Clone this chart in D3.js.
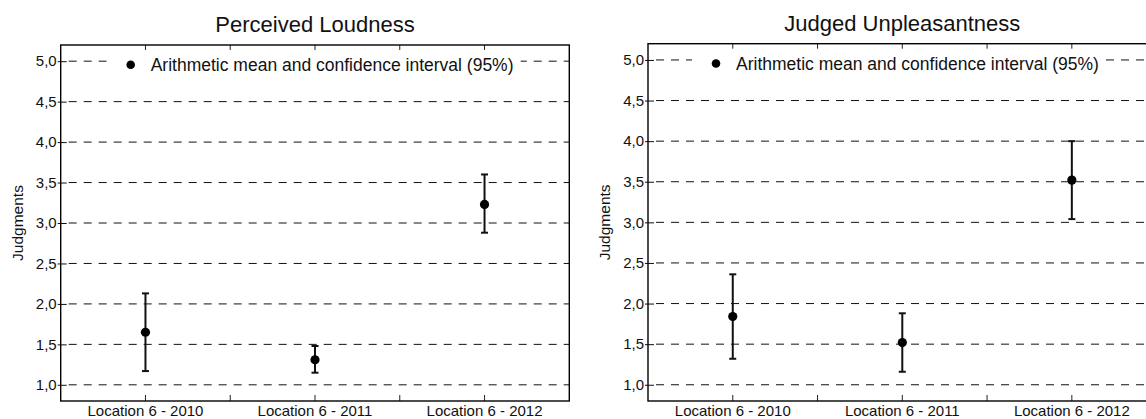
<!DOCTYPE html>
<html>
<head>
<meta charset="utf-8">
<script src="https://cdn.jsdelivr.net/npm/d3@7"></script>
<style>
  html, body { margin: 0; padding: 0; background: #fff; }
  svg { display: block; font-family: "Liberation Sans", Arial, Helvetica, sans-serif; }
</style>
</head>
<body>
<svg id="chart" width="1146" height="419"></svg>
<script>
// ---- data ----
const categories = ["Location 6 - 2010", "Location 6 - 2011", "Location 6 - 2012"];
const loudnessMean = [1.65, 1.31, 3.23];
const loudnessLow  = [1.17, 1.15, 2.88];
const loudnessHigh = [2.13, 1.48, 3.60];
const unpleasMean  = [1.84, 1.52, 3.52];
const unpleasLow   = [1.32, 1.16, 3.04];
const unpleasHigh  = [2.36, 1.88, 4.00];
const yTicks = [1.0, 1.5, 2.0, 2.5, 3.0, 3.5, 4.0, 4.5, 5.0];
const yDomain = [0.8, 5.2];
const panelTitles = ["Perceived Loudness", "Judged Unpleasantness"];
const yAxisLabel = "Judgments";
const legendLabel = "Arithmetic mean and confidence interval (95%)";

const svg = d3.select("#chart");
const locale = d3.formatLocale({decimal: ",", thousands: ".", grouping: [3], currency: ["", "€"]});
const fmt = locale.format(".1f");

function panel(cfg) {
  const {x0, width, y0, y1, title, mean, low, high, titleY} = cfg;
  const g = svg.append("g");
  const x = d3.scaleBand().domain(categories).range([x0, x0 + width]);
  const y = d3.scaleLinear().domain(yDomain).range([y1, y0]);

  // grid lines
  g.append("g").selectAll("line").data(yTicks).join("line")
    .attr("x1", x0 + 8).attr("x2", x0 + width)
    .attr("y1", d => y(d)).attr("y2", d => y(d))
    .attr("stroke", "#111").attr("stroke-width", 1)
    .attr("stroke-dasharray", "8,7");

  // y axis (labels + ticks)
  const yAxis = d3.axisLeft(y).tickValues(yTicks).tickFormat(fmt).tickSizeInner(3).tickSizeOuter(0).tickPadding(1);
  const ya = g.append("g").attr("transform", `translate(${x0},0)`).call(yAxis);
  ya.select(".domain").remove();
  ya.selectAll(".tick line").attr("stroke", "#111").attr("x2", 6).attr("x1", -3);
  ya.selectAll("text").attr("font-size", 15).attr("fill", "#111")
    .attr("font-family", "Liberation Sans, Arial, sans-serif");

  // x axis bottom (labels)
  const xAxis = d3.axisBottom(x).tickSize(0);
  const xa = g.append("g").attr("transform", `translate(0,${y1})`).call(xAxis);
  xa.select(".domain").remove();
  xa.selectAll("text").attr("font-size", 15).attr("fill", "#111")
    .attr("y", 14.5).attr("dy", 0)
    .attr("font-family", "Liberation Sans, Arial, sans-serif");

  // inner ticks at centers and boundaries (top and bottom)
  const tickPos = [];
  categories.forEach((c, i) => {
    tickPos.push(x(c) + x.bandwidth() / 2);
    if (i > 0) tickPos.push(x(c));
  });
  g.append("g").selectAll("line").data(tickPos).join("line")
    .attr("x1", d => d).attr("x2", d => d)
    .attr("y1", y1).attr("y2", y1 - 6)
    .attr("stroke", "#222").attr("stroke-width", 1);
  g.append("g").selectAll("line").data(tickPos).join("line")
    .attr("x1", d => d).attr("x2", d => d)
    .attr("y1", y0).attr("y2", y0 + 5)
    .attr("stroke", "#222").attr("stroke-width", 1);

  // frame
  g.append("rect").attr("x", x0).attr("y", y0).attr("width", width).attr("height", y1 - y0)
    .attr("fill", "none").attr("stroke", "#000").attr("stroke-width", 1.4);

  // legend
  const legX = x0 + cfg.legDx;
  g.append("rect").attr("x", legX - 24).attr("y", y(5.0) - 8).attr("width", 414).attr("height", 20)
    .attr("fill", "#fff");
  g.append("circle").attr("cx", legX).attr("cy", y(5.0) + 3.5).attr("r", 4.3).attr("fill", "#000");
  g.append("text").attr("x", legX + 20).attr("y", y(5.0) + 10)
    .attr("font-size", 17.5).attr("fill", "#111").text(legendLabel);

  // error bars
  const cx = i => x(categories[i]) + x.bandwidth() / 2;
  const idx = d3.range(categories.length);
  const eb = g.append("g").attr("stroke", "#111").attr("stroke-width", 2);
  eb.selectAll("line.v").data(idx).join("line").attr("class", "v")
    .attr("x1", cx).attr("x2", cx)
    .attr("y1", i => y(low[i])).attr("y2", i => y(high[i]));
  eb.selectAll("line.t").data(idx).join("line").attr("class", "t")
    .attr("x1", i => cx(i) - 3.5).attr("x2", i => cx(i) + 3.5)
    .attr("y1", i => y(high[i])).attr("y2", i => y(high[i]));
  eb.selectAll("line.b").data(idx).join("line").attr("class", "b")
    .attr("x1", i => cx(i) - 3.5).attr("x2", i => cx(i) + 3.5)
    .attr("y1", i => y(low[i])).attr("y2", i => y(low[i]));
  g.append("g").selectAll("circle").data(idx).join("circle")
    .attr("cx", cx).attr("cy", i => y(mean[i])).attr("r", 4.6).attr("fill", "#000");

  // title
  g.append("text").attr("x", x0 + width / 2).attr("y", titleY)
    .attr("text-anchor", "middle").attr("font-size", 22).attr("fill", "#111").text(title);

  // y label
  g.append("text").attr("transform", `translate(${x0 - 38.2},${(y0 + y1) / 2}) rotate(-90)`)
    .attr("text-anchor", "middle").attr("font-size", 15.5).attr("fill", "#111").text(yAxisLabel);
}

panel({x0: 60.7, width: 508.6, y0: 45, y1: 401, title: panelTitles[0],
  mean: loudnessMean, low: loudnessLow, high: loudnessHigh, titleY: 31.5, legDx: 70});
panel({x0: 648, width: 508.6, y0: 43.7, y1: 401, title: panelTitles[1],
  mean: unpleasMean, low: unpleasLow, high: unpleasHigh, titleY: 30.5, legDx: 68});
</script>
</body>
</html>
